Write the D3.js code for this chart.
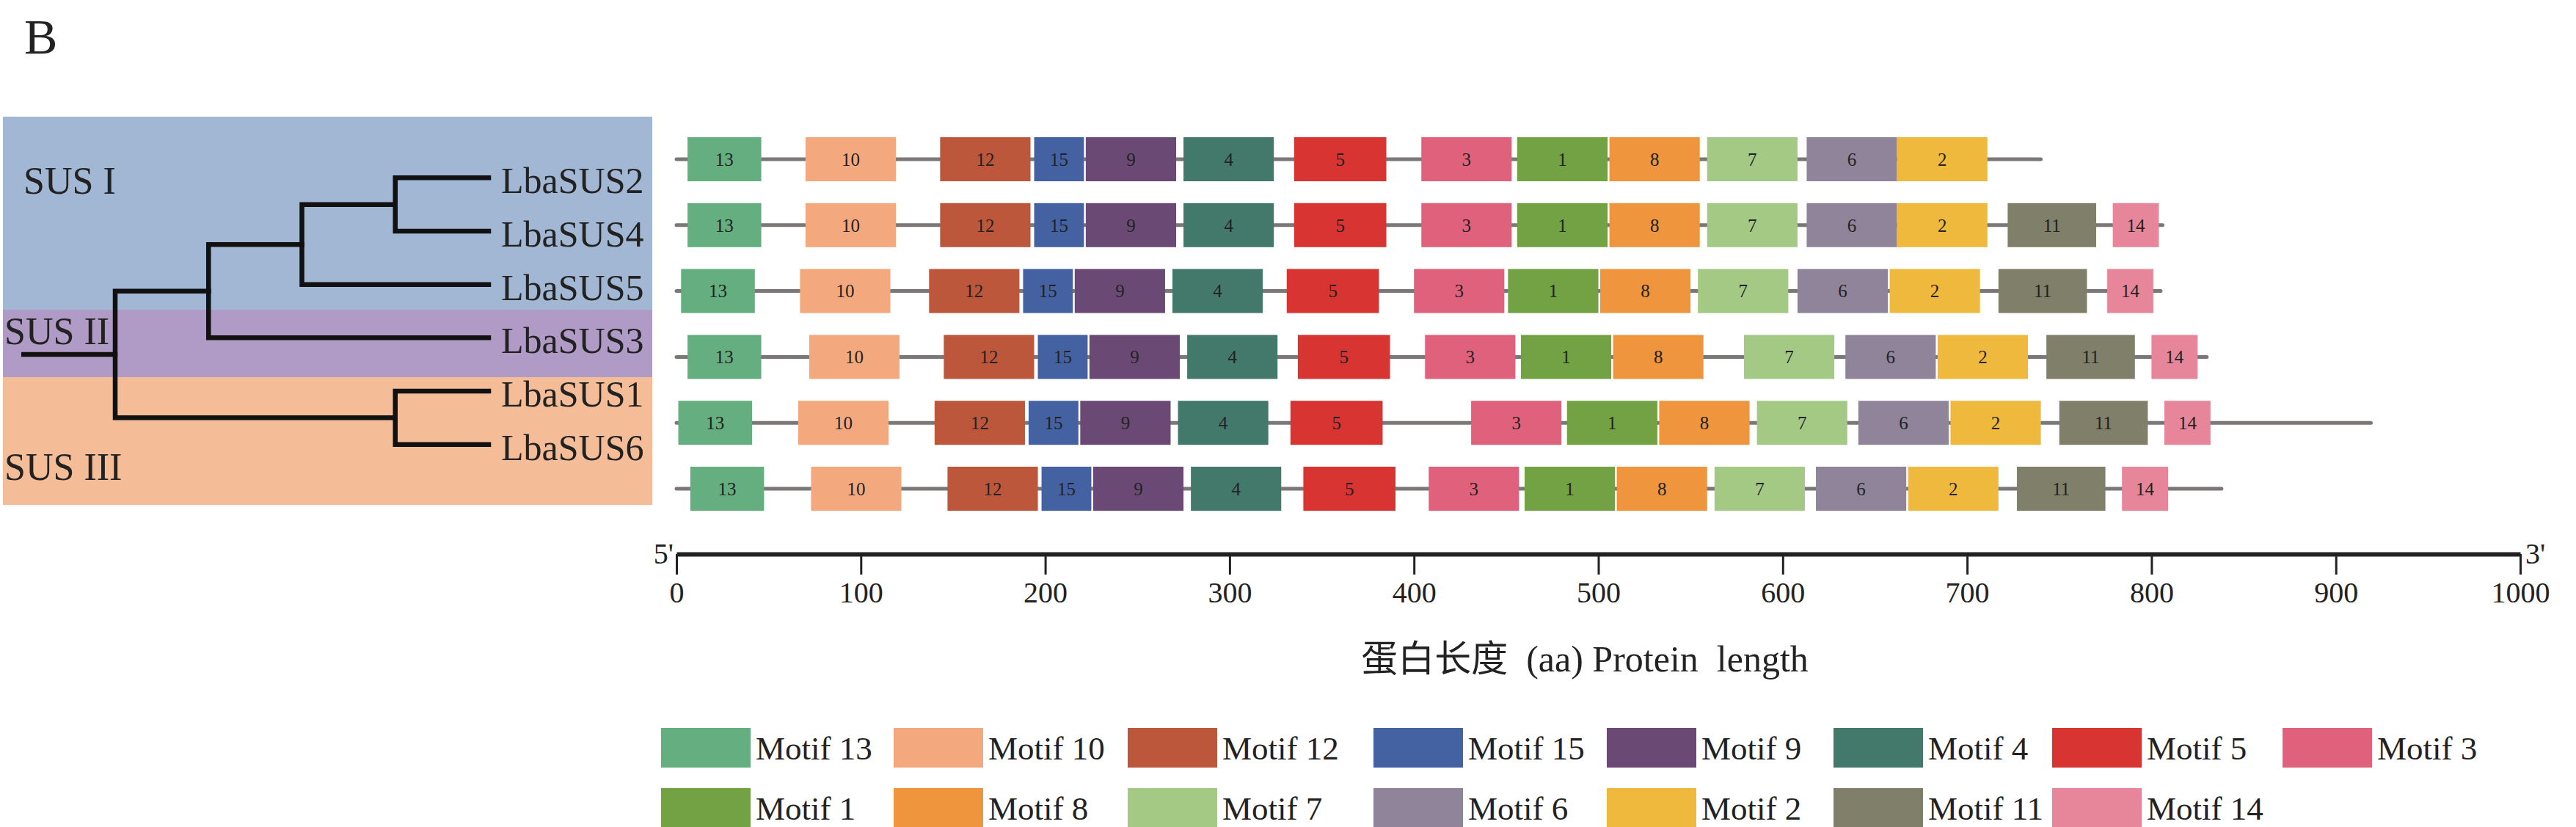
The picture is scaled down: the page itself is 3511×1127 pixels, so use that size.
<!DOCTYPE html>
<html>
<head>
<meta charset="utf-8">
<script src="https://cdnjs.cloudflare.com/ajax/libs/d3/7.8.5/d3.min.js"></script>
<style>
  body { margin: 0; background: #fff; }
  text { font-family: "Liberation Serif", "Times New Roman", "Noto Sans CJK SC", serif; fill: #222; }
</style>
</head>
<body>
<script>
/* motif structure of LbaSUS proteins, with the gene tree on the left */

var W = 3511, H = 1127;

// genes, top to bottom
var genes = ["LbaSUS2", "LbaSUS4", "LbaSUS5", "LbaSUS3", "LbaSUS1", "LbaSUS6"];
var proteinLength = [740, 806, 805, 830, 919, 838];

// motifs in legend order
var motifIds = [13, 10, 12, 15, 9, 4, 5, 3, 1, 8, 7, 6, 2, 11, 14];
var motifWidth = [40, 49, 49, 27, 49, 49, 50, 49, 49, 49, 49, 49, 49, 48, 25];
var motifColor = ["#64ae80", "#f4a87e", "#bc573b", "#4462a1", "#6a4a75", "#43796b", "#d73432", "#e0617b",
                  "#72a244", "#ef953d", "#a3c985", "#8f8499", "#efb93d", "#7f7f6a", "#e7869a"];

// start position (aa) of each motif, per gene, in the order they appear
var motifOrder = [13, 10, 12, 15, 9, 4, 5, 3, 1, 8, 7, 6, 2, 11, 14];
var startSUS2 = [6, 70, 143, 194, 222, 275, 335, 404, 456, 506, 559, 613, 662];
var startSUS4 = [6, 70, 143, 194, 222, 275, 335, 404, 456, 506, 559, 613, 662, 722, 779];
var startSUS5 = [2.5, 67, 137, 188, 216, 269, 331, 400, 451, 501, 554, 608, 658, 717, 776];
var startSUS3 = [6, 72, 145, 196, 224, 277, 337, 406, 458, 508, 579, 634, 684, 743, 800];
var startSUS1 = [1, 66, 140, 191, 219, 272, 333, 431, 483, 533, 586, 641, 691, 750, 807];
var startSUS6 = [7.5, 73, 147, 198, 226, 279, 340, 408, 460, 510, 563, 618, 668, 727, 784];
var motifStarts = [startSUS2, startSUS4, startSUS5, startSUS3, startSUS1, startSUS6];

var axisTicks = [0, 100, 200, 300, 400, 500, 600, 700, 800, 900, 1000];

// gene tree (newick-like nesting)
var tree = {children: [
  {children: [
    {children: [
      {children: [{name: "LbaSUS2"}, {name: "LbaSUS4"}]},
      {name: "LbaSUS5"}
    ]},
    {name: "LbaSUS3"}
  ]},
  {children: [{name: "LbaSUS1"}, {name: "LbaSUS6"}]}
]};

// subfamily shading
var groups = ["SUS I", "SUS II", "SUS III"];
var groupColor = ["#a1b7d4", "#b09bc7", "#f4bd97"];
var groupTop = [159, 422, 514];
var groupBottom = [422, 514, 688];

var svg = d3.select("body").append("svg")
  .attr("width", W)
  .attr("height", H);

svg.append("text")
  .attr("x", 33).attr("y", 73)
  .style("font-size", "68px")
  .text("B");

/* ---- tree panel ---- */
svg.selectAll(".grp").data(groups).enter().append("rect")
  .attr("x", 4)
  .attr("width", 885)
  .attr("y", function(d, i) { return groupTop[i]; })
  .attr("height", function(d, i) { return groupBottom[i] - groupTop[i]; })
  .attr("fill", function(d, i) { return groupColor[i]; });

var groupLabelPos = [[32, 264], [6, 469], [6, 654]];
svg.selectAll(".grpLabel").data(groups).enter().append("text")
  .attr("x", function(d, i) { return groupLabelPos[i][0]; })
  .attr("y", function(d, i) { return groupLabelPos[i][1]; })
  .style("font-size", "52px")
  .text(function(d) { return d; });

var root = d3.hierarchy(tree);
d3.cluster().size([436, 509]).separation(function() { return 1; })(root);

var treeG = svg.append("g").attr("transform", "translate(157,206)");

treeG.selectAll(".link").data(root.links()).enter().append("path")
  .attr("d", function(l) {
    return "M" + l.source.y + "," + l.source.x + "V" + l.target.x + "H" + l.target.y;
  })
  .attr("fill", "none")
  .attr("stroke", "#111")
  .attr("stroke-width", 6.5)
  .attr("stroke-linecap", "square");

treeG.append("line")
  .attr("x1", -128).attr("x2", 0)
  .attr("y1", root.x).attr("y2", root.x)
  .attr("stroke", "#111")
  .attr("stroke-width", 6.5);

treeG.selectAll(".leaf").data(root.leaves()).enter().append("text")
  .attr("x", function(d) { return d.y + 17; })
  .attr("y", function(d) { return d.x; })
  .attr("dy", "0.42em")
  .style("font-size", "50px")
  .text(function(d) { return d.data.name; });

/* ---- motif panel ---- */
var x = d3.scaleLinear().domain([0, 1000]).range([922, 3435]);
var y = d3.scalePoint().domain(genes).range([217, 666]);
var boxH = 60;

var rows = svg.selectAll(".gene").data(genes).enter().append("g")
  .attr("transform", function(d) { return "translate(0," + y(d) + ")"; });

rows.append("line")
  .attr("x1", x(0))
  .attr("x2", function(d, i) { return x(proteinLength[i]); })
  .attr("stroke", "#7c7777")
  .attr("stroke-width", 5)
  .attr("stroke-linecap", "round");

var boxes = rows.selectAll(".motif")
  .data(function(d, i) {
    return motifStarts[i].map(function(s, j) {
      var id = motifOrder[j];
      var k = motifIds.indexOf(id);
      return {id: id, start: s, end: s + motifWidth[k], color: motifColor[k]};
    });
  })
  .enter().append("g");

boxes.append("rect")
  .attr("x", function(d) { return x(d.start); })
  .attr("width", function(d) { return x(d.end) - x(d.start); })
  .attr("y", -boxH / 2)
  .attr("height", boxH)
  .attr("fill", function(d) { return d.color; });

boxes.append("text")
  .attr("x", function(d) { return (x(d.start) + x(d.end)) / 2; })
  .attr("dy", "0.35em")
  .attr("text-anchor", "middle")
  .style("font-size", "25px")
  .text(function(d) { return d.id; });

/* ---- axis ---- */
var axisG = svg.append("g")
  .attr("transform", "translate(0,755)")
  .call(d3.axisBottom(x).tickValues(axisTicks).tickSize(28).tickSizeOuter(0).tickPadding(10).tickFormat(d3.format("d")));

axisG.select(".domain").attr("stroke", "#222").attr("stroke-width", 6);
axisG.selectAll(".tick line").attr("stroke", "#222").attr("stroke-width", 3);
axisG.selectAll(".tick text")
  .style("font-family", "'Liberation Serif', 'Times New Roman', serif")
  .style("font-size", "40px")
  .attr("fill", "#222");

svg.append("text").attr("x", 918).attr("y", 768).attr("text-anchor", "end")
  .style("font-size", "40px").text("5'");
svg.append("text").attr("x", 3442).attr("y", 768)
  .style("font-size", "40px").text("3'");

svg.append("text")
  .attr("x", 2160).attr("y", 897)
  .attr("dy", "0.35em")
  .attr("text-anchor", "middle")
  .attr("xml:space", "preserve")
  .style("font-size", "50px")
  .style("white-space", "pre")
  .text("蛋白长度  (aa) Protein  length");

/* ---- legend ---- */
var legendRows = [motifIds.slice(0, 8), motifIds.slice(8)];
var legendY = [992, 1074];
var legendCols = [901, 1218, 1537, 1872, 2190, 2499, 2797, 3111];
var swW = 122, swH = 54;

legendRows.forEach(function(ids, r) {
  var g = svg.selectAll(".leg" + r).data(ids).enter().append("g")
    .attr("transform", function(d, c) { return "translate(" + legendCols[c] + "," + legendY[r] + ")"; });
  g.append("rect")
    .attr("width", swW).attr("height", swH)
    .attr("fill", function(d) { return motifColor[motifIds.indexOf(d)]; });
  g.append("text")
    .attr("x", swW + 7)
    .attr("y", swH / 2)
    .attr("dy", "0.35em")
    .style("font-size", "45px")
    .text(function(d) { return "Motif " + d; });
});
</script>
</body>
</html>
